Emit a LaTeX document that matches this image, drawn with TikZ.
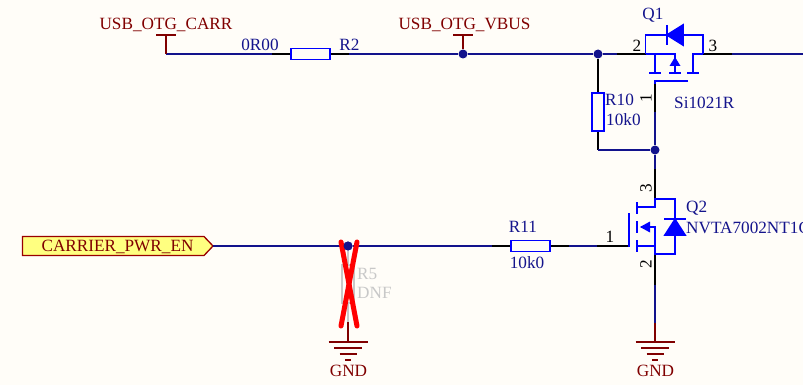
\documentclass[tikz,border=0pt]{standalone}
\usepackage{fontspec}
\setmainfont{Liberation Serif}
\definecolor{bgc}{HTML}{FFFDF8}
\definecolor{wirec}{HTML}{12128C}
\definecolor{partc}{HTML}{0000FF}
\definecolor{netc}{HTML}{800000}
\definecolor{txtc}{HTML}{14148C}
\definecolor{portf}{HTML}{FFFF80}
\definecolor{ghost}{HTML}{C8C8C8}
\tikzset{
  wire/.style={draw=wirec,line width=1.6pt},
  pin/.style={draw=black,line width=1.6pt},
  part/.style={draw=partc,line width=1.7pt},
  net/.style={draw=netc,line width=1.5pt},
  resh/.style={draw=partc,line width=1.7pt,rectangle,minimum width=39pt,minimum height=11pt,inner sep=0pt},
  resv/.style={draw=partc,line width=1.7pt,rectangle,minimum width=12pt,minimum height=38pt,inner sep=0pt},
  dot/.style={circle,fill=wirec,minimum size=9pt,inner sep=0pt},
  lab/.style={font=\fontsize{17.2}{19}\selectfont,text=txtc,inner sep=0pt},
  netlab/.style={font=\fontsize{17.2}{19}\selectfont,text=netc,inner sep=0pt},
  num/.style={font=\fontsize{17.2}{19}\selectfont,text=black,inner sep=0pt},
  ghostlab/.style={font=\fontsize{17.2}{19}\selectfont,text=ghost,inner sep=0pt,anchor=west},
}
\begin{document}
\begin{tikzpicture}[x=1pt,y=-1pt]
\fill[bgc] (0,0) rectangle (803,385);
\useasboundingbox (0,0) rectangle (803,385);
% named points
\coordinate (carr) at (166,54);
\coordinate (carrtop) at (166,35);
\coordinate (vbustop) at (463,35);
\coordinate (q1d) at (645.5,54);
\coordinate (q1s) at (703,54);
\coordinate (q1pl) at (617,54);
\coordinate (q1pr) at (732,54);
\coordinate (right) at (803,54);
\coordinate (q1g) at (655,81);
\coordinate (q2d) at (655,199);
\coordinate (q2s) at (655,254);
\coordinate (q2g) at (629,246);
\coordinate (gatep) at (597,246);
\coordinate (q2pb) at (655,285);
\node[resh] (R2) at (310.5,54) {};
\node[resh] (R11) at (530.5,246) {};
\node[resv] (R10) at (598,112) {};
\node[dot] (j1) at (463,54) {};
\node[dot] (j2) at (598,54) {};
\node[dot] (j3) at (655,150) {};
\node[dot] (j4) at (348,246) {};
\coordinate (gnd1) at (348,342);
\coordinate (gnd2) at (655,342);
% CARRIER port
\coordinate (porttip) at (213,246);
\draw[draw=netc!80!red,line width=1.3pt,fill=portf] (22.5,236.5) -- (204,236.5) -- (porttip) -- (204,255.5) -- (22.5,255.5) -- cycle;
\node[netlab] (portl) at (117.5,246.5) {CARRIER\_PWR\_EN};
% wires
\draw[wire] (carr) -- (272,54);
\draw[pin] (272,54) -- (R2.west);
\draw[pin] (R2.east) -- (349,54);
\draw[wire] (349,54) -- (j1) -- (j2) -- (q1pl);
\draw[pin] (q1pl) -- (q1d);
\draw[pin] (q1s) -- (q1pr);
\draw[wire] (q1pr) -- (right);
\draw[pin] (j2) -- (R10.north);
\draw[pin] (R10.south) -- (598,150);
\draw[wire] (598,150) -- (j3);
\draw[wire] (porttip) -- (j4) -- (492,246);
\draw[pin] (492,246) -- (R11.west);
\draw[pin] (R11.east) -- (569,246);
\draw[wire] (569,246) -- (gatep);
\draw[pin] (gatep) -- (q2g);
\draw[wire] (j3) -- (655,169);
\draw[pin] (655,169) -- (q2d);
\draw[pin] (q2s) -- (q2pb);
\draw[wire] (q2pb) -- (655,323);
\draw[net] (655,323) -- (gnd2);
\draw[wire] (655,112) -- (j3);
\draw[pin] (655,84) -- (655,112);
% power ports
\draw[net] (carr) -- (carrtop);
\draw[net] (156,35) -- (176,35);
\draw[net] (j1) -- (vbustop);
\draw[net] (453,35) -- (473,35);
\node[netlab] (carrl) at (166,24.5) {USB\_OTG\_CARR};
\node[netlab] (vbusl) at (464.5,24.5) {USB\_OTG\_VBUS};
% Q1
\draw[part] (q1d) |- (667,35);
\draw[part] (683,35) -| (q1s);
\draw[part,fill=partc] (667,35) -- (683,25) -- (683,45) -- cycle;
\draw[part] (667,25) -- (667,45);
\draw[part] (q1d) -- (675,54) -- (675,73);
\draw[part] (655,54) -- (655,73);
\draw[part] (q1s) -- (693,54) -- (693,73);
\draw[part] (649,73) -- (661,73);
\draw[part] (669,73) -- (681,73);
\draw[part] (687,73) -- (699,73);
\fill[partc] (675,57) -- (680.5,66) -- (669.5,66) -- cycle;
\draw[part] (688,81) -- (q1g) -- (655,84);
% Q2
\draw[part] (637,207) -- (655,207) -- (q2d) -- (675,199) -- (675,219);
\draw[part] (675,235) -- (675,254) -- (q2s) -- (655,246) -- (637,246);
\draw[part] (655,246) -- (655,227) -- (641,227);
\draw[part] (637,202) -- (637,214);
\draw[part] (637,221) -- (637,233);
\draw[part] (637,240) -- (637,252);
\fill[partc] (640,227) -- (650,221.5) -- (650,232.5) -- cycle;
\draw[part] (629,213) -- (629,247);
\draw[part,fill=partc] (675,219.5) -- (685,235) -- (665,235) -- cycle;
\draw[part] (664,219) -- (686,219);
% R5 ghost
\draw[draw=ghost,line width=1.4pt] (j4) -- (348,265);
\draw[draw=ghost,line width=1.4pt] (342,265) rectangle (354,303);
\draw[draw=ghost,line width=1.4pt] (348,303) -- (348,322);
\draw[net] (348,322) -- (gnd1);
% grounds
\foreach \g in {gnd1,gnd2}{
  \draw[net] ([xshift=-19.5pt]\g) -- ([xshift=19.5pt]\g);
  \draw[net] ([xshift=-14pt,yshift=-6pt]\g) -- ([xshift=14pt,yshift=-6pt]\g);
  \draw[net] ([xshift=-8.5pt,yshift=-12pt]\g) -- ([xshift=8.5pt,yshift=-12pt]\g);
  \draw[net] ([xshift=-3pt,yshift=-18pt]\g) -- ([xshift=3pt,yshift=-18pt]\g);
}
\node[netlab] (g1l) at (348.5,371) {GND};
\node[netlab] (g2l) at (655.5,371) {GND};
% red cross
\draw[red,line width=5pt,line cap=round] (341,242) -- (357,326);
\draw[red,line width=5pt,line cap=round] (357,242) -- (341,326);
\fill[wirec] (j4) circle (4.5pt);
% labels
\node[lab] (l0r) at (260,45) {0R00};
\node[lab] (lr2) at (349.5,45) {R2};
\node[lab] (lq1) at (653,15) {Q1};
\node[lab,anchor=west] (lsi) at (674,103) {Si1021R};
\node[lab,anchor=west] (lr10) at (605,100) {R10};
\node[lab,anchor=west] (l10k) at (606,120) {10k0};
\node[lab] (lr11) at (523,227) {R11};
\node[lab] (l11k) at (527,263) {10k0};
\node[lab,anchor=west] (lq2) at (686,208) {Q2};
\node[lab,anchor=west] (lnv) at (686,228) {NVTA7002NT1G};
\node[ghostlab] (lr5) at (357,274) {R5};
\node[ghostlab] (ldnf) at (357,293) {DNF};
% pin numbers
\node[num] (n2) at (637,46) {2};
\node[num] (n3) at (713,46) {3};
\node[num,rotate=90] (n1a) at (646,98) {1};
\node[num] (n1b) at (610,237) {1};
\node[num,rotate=90] (n3b) at (646,188) {3};
\node[num,rotate=90] (n2b) at (646,264) {2};
\end{tikzpicture}
\end{document}
